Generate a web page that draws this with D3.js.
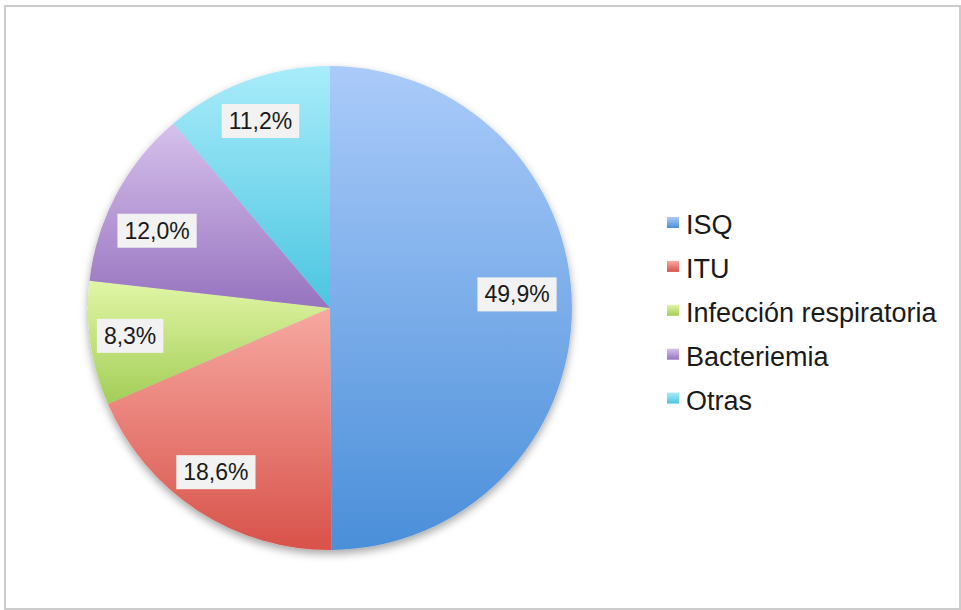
<!DOCTYPE html>
<html>
<head>
<meta charset="utf-8">
<script src="https://cdn.jsdelivr.net/npm/d3@7"></script>
<style>
  html, body { margin: 0; padding: 0; background: #ffffff; }
  svg { display: block; }
</style>
</head>
<body>
<svg id="chart" width="961" height="610"></svg>
<script>
// ---- data ----
const categories = ["ISQ", "ITU", "Infección respiratoria", "Bacteriemia", "Otras"];
const values = [49.9, 18.6, 8.3, 12.0, 11.2];
const labels = ["49,9%", "18,6%", "8,3%", "12,0%", "11,2%"];
const colorsTop = ["#abcbfa", "#f7a9a1", "#e1f6a6", "#d6c1ec", "#a9ecfa"];
const colorsBottom = ["#4a8fd9", "#d8524a", "#a3cd57", "#9773bf", "#4bc5e1"];

// ---- layout ----
const svg = d3.select("#chart");
const cx = 330, cy = 308, R = 242;
// small label placement adjustments (pixels, relative to the computed centroid)
const labelNudge = [[-9, -13], [-7, 0], [-6, -1], [0, 15], [-2, -3]];

const defs = svg.append("defs");
categories.forEach((c, i) => {
  const g = defs.append("linearGradient")
    .attr("id", "grad" + i)
    .attr("x1", 0).attr("y1", 0).attr("x2", 0).attr("y2", 1);
  g.append("stop").attr("offset", "0%").attr("stop-color", colorsTop[i]);
  g.append("stop").attr("offset", "100%").attr("stop-color", colorsBottom[i]);
});
const f = defs.append("filter").attr("id", "shadow")
  .attr("x", "-20%").attr("y", "-20%").attr("width", "140%").attr("height", "140%");
f.append("feDropShadow").attr("dx", 0).attr("dy", 4).attr("stdDeviation", 4)
  .attr("flood-color", "#000").attr("flood-opacity", 0.35);

// frame
svg.append("rect")
  .attr("x", 5).attr("y", 6).attr("width", 955).attr("height", 603)
  .attr("fill", "none").attr("stroke", "#cccccc").attr("stroke-width", 2);

const pie = d3.pie().sort(null).value(d => d)(values);
const arc = d3.arc().innerRadius(0).outerRadius(R);
const labelArc = d3.arc().innerRadius(R * 0.81).outerRadius(R * 0.81);

const g = svg.append("g").attr("transform", `translate(${cx},${cy})`);
const slices = g.append("g").attr("filter", "url(#shadow)");
slices.selectAll("path").data(pie).join("path")
  .attr("d", arc)
  .attr("fill", (d, i) => `url(#grad${i})`);

// labels
const lg = g.append("g");
pie.forEach((d, i) => {
  const [x, y] = labelArc.centroid(d);
  const grp = lg.append("g")
    .attr("transform", `translate(${x + labelNudge[i][0]},${y + labelNudge[i][1]})`);
  const t = grp.append("text")
    .attr("text-anchor", "middle")
    .attr("dy", "0.35em")
    .attr("font-family", "Liberation Sans, Arial, Helvetica, sans-serif")
    .attr("font-size", 23)
    .attr("fill", "#1a1a1a")
    .text(labels[i]);
  const w = t.node().getComputedTextLength();
  grp.insert("rect", "text")
    .attr("x", -w / 2 - 7).attr("y", -17)
    .attr("width", w + 14).attr("height", 34)
    .attr("fill", "#f2f2f2");
});

// legend
const legend = svg.append("g").attr("transform", "translate(667,234)");
categories.forEach((c, i) => {
  const row = legend.append("g").attr("transform", `translate(0,${i * 43.9})`);
  row.append("rect")
    .attr("x", 0).attr("y", -17).attr("width", 12).attr("height", 11)
    .attr("fill", `url(#grad${i})`);
  row.append("text")
    .attr("x", 19).attr("y", 0)
    .attr("font-family", "Liberation Sans, Arial, Helvetica, sans-serif")
    .attr("font-size", 27)
    .attr("fill", "#1a1a1a")
    .text(c);
});
</script>
</body>
</html>
